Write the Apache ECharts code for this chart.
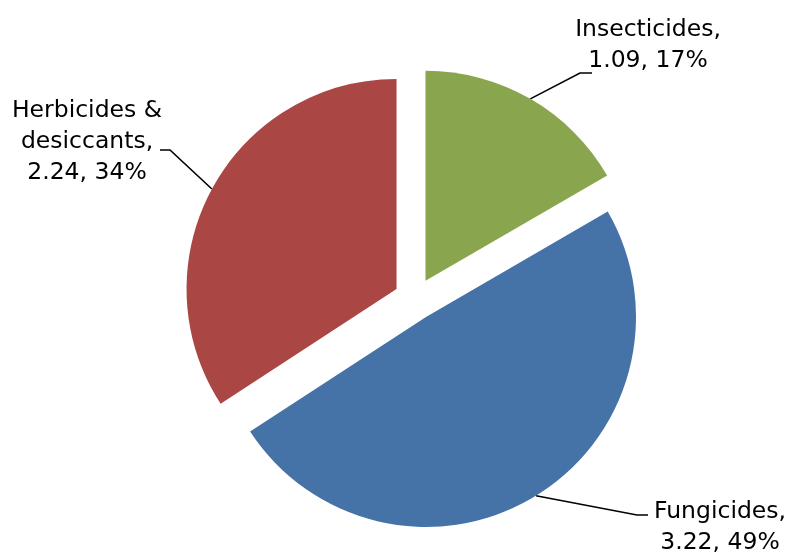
<!DOCTYPE html>
<html>
<head>
<meta charset="utf-8">
<script src="https://cdn.jsdelivr.net/npm/echarts@6/dist/echarts.min.js"></script>
<style>
  html, body { margin: 0; padding: 0; background: #fff; }
  #chart { width: 789px; height: 555px; }
</style>
</head>
<body>
<div id="chart"></div>
<script>
// pesticide use by type
const categories = ['Insecticides', 'Fungicides', 'Herbicides &\ndesiccants'];
const values = [1.09, 3.22, 2.24];
const colors = ['#89A54E', '#4572A7', '#AA4643'];

// where each label sits and how its leader line bends
const labelSpots = [
    { x: 648, y: 45, bend: [580, 73], end: [592, 73] },
    { x: 720, y: 527, bend: [637, 515], end: [648, 515] },
    { x: 87, y: 142, bend: [170, 150], end: [160, 150] }
];

const pieCenter = [415, 299];
const pieRadius = 210;
const explode = 21;

const myChart = echarts.init(document.getElementById('chart'));

const option = {
    animation: false,
    series: [
        {
            // the exploded slices
            type: 'pie',
            center: pieCenter,
            radius: pieRadius,
            startAngle: 90,
            selectedMode: 'multiple',
            selectedOffset: explode,
            label: { show: false },
            labelLine: { show: false },
            emphasis: { disabled: true },
            data: categories.map(function (name, i) {
                return {
                    name: name,
                    value: values[i],
                    selected: true,
                    itemStyle: { color: colors[i] }
                };
            })
        },
        {
            // invisible ring that carries the labels, reaching the exploded edges
            type: 'pie',
            silent: true,
            center: pieCenter,
            radius: pieRadius + explode,
            startAngle: 90,
            percentPrecision: 0,
            avoidLabelOverlap: false,
            itemStyle: { color: 'rgba(0,0,0,0)', borderWidth: 0 },
            label: {
                show: true,
                formatter: '{b},\n{c}, {d}%',
                color: '#000',
                fontFamily: 'DejaVu Sans',
                fontSize: 23.5,
                lineHeight: 31,
                align: 'center'
            },
            labelLine: {
                show: true,
                lineStyle: { color: '#000', width: 1.6 }
            },
            labelLayout: function (p) {
                const spot = labelSpots[p.dataIndex];
                return {
                    x: spot.x,
                    y: spot.y,
                    align: 'center',
                    verticalAlign: 'middle',
                    labelLinePoints: [p.labelLinePoints[0], spot.bend, spot.end]
                };
            },
            data: categories.map(function (name, i) {
                return { name: name, value: values[i] };
            })
        }
    ]
};

myChart.setOption(option);
</script>
</body>
</html>
